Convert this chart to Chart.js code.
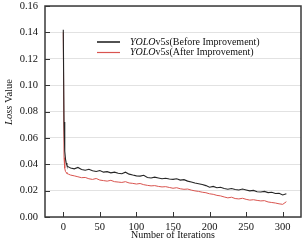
<!DOCTYPE html>
<html>
<head>
<meta charset="utf-8">
<script src="https://cdn.jsdelivr.net/npm/chart.js@4/dist/chart.umd.min.js"></script>
<style>
  body { margin: 0; background: #fff; }
  canvas { display: block; }
</style>
</head>
<body>
<canvas id="chart" width="306" height="241"></canvas>
<script>
const iterations = [0, 1, 2, 3, 4, 5, 7, 10, 15, 20, 25, 30, 35, 40, 45, 50, 55, 60, 65, 70, 75, 80, 85, 90, 95,
  100, 105, 110, 115, 120, 125, 130, 135, 140, 145, 150, 155, 160, 165, 170, 175, 180, 185, 190, 195,
  200, 205, 210, 215, 220, 225, 230, 235, 240, 245, 250, 255, 260, 265, 270, 275, 280, 285, 290, 295, 300, 305];
const lossBefore = [0.142, 0.072, 0.050, 0.044, 0.041, 0.039, 0.038, 0.0372, 0.0365, 0.0376, 0.0360, 0.0355, 0.0362, 0.0350, 0.0345, 0.0352, 0.0340, 0.0344, 0.0335, 0.0340, 0.0332, 0.0328, 0.0340, 0.0325, 0.0318,
  0.0312, 0.0310, 0.0316, 0.0300, 0.0296, 0.0302, 0.0296, 0.0290, 0.0294, 0.0288, 0.0285, 0.0290, 0.0280, 0.0283, 0.0272, 0.0266, 0.0258, 0.0252, 0.0246, 0.0238,
  0.0226, 0.0232, 0.0222, 0.0226, 0.0216, 0.0210, 0.0216, 0.0208, 0.0205, 0.0212, 0.0205, 0.0198, 0.0202, 0.0192, 0.0190, 0.0194, 0.0185, 0.0188, 0.0178, 0.0180, 0.0167, 0.0176];
const lossAfter = [0.140, 0.045, 0.037, 0.0345, 0.0338, 0.0330, 0.0325, 0.0318, 0.0312, 0.0305, 0.0298, 0.0300, 0.0290, 0.0285, 0.0292, 0.0280, 0.0276, 0.0272, 0.0278, 0.0268, 0.0265, 0.0262, 0.0268, 0.0258, 0.0255,
  0.0250, 0.0254, 0.0245, 0.0240, 0.0236, 0.0238, 0.0232, 0.0228, 0.0230, 0.0224, 0.0218, 0.0222, 0.0214, 0.0210, 0.0212, 0.0204, 0.0198, 0.0194, 0.0188, 0.0184,
  0.0176, 0.0172, 0.0164, 0.0160, 0.0152, 0.0145, 0.0150, 0.0140, 0.0137, 0.0142, 0.0134, 0.0128, 0.0131, 0.0126, 0.0122, 0.0124, 0.0114, 0.0110, 0.0106, 0.0100, 0.0096, 0.0116];
const seriesLabels = ['YOLOv5s(Before Improvement)', 'YOLOv5s(After Improvement)'];
const xTicks = [0, 50, 100, 150, 200, 250, 300];
const yTicks = [0, 0.02, 0.04, 0.06, 0.08, 0.10, 0.12, 0.14, 0.16];

const serif = '"Liberation Serif", "Times New Roman", serif';

// mixed italic / upright text, parts = [[text, italic], ...]
function drawRich(ctx, parts, x, y, size) {
  let cx = x;
  parts.forEach(([text, italic]) => {
    ctx.font = (italic ? 'italic ' : '') + size + 'px ' + serif;
    ctx.fillText(text, cx, y);
    cx += ctx.measureText(text).width;
  });
  return cx - x;
}

function richWidth(ctx, parts, size) {
  let w = 0;
  parts.forEach(([text, italic]) => {
    ctx.font = (italic ? 'italic ' : '') + size + 'px ' + serif;
    w += ctx.measureText(text).width;
  });
  return w;
}

function labelParts(label) {
  const m = label.match(/^(YOLO)(v5)(s)(.*)$/);
  return m ? [[m[1], true], [m[2], false], [m[3], true], [m[4], false]] : [[label, false]];
}

const decor = {
  id: 'decor',
  afterDraw(chart) {
    const ctx = chart.ctx;
    const a = chart.chartArea;
    const xs = chart.scales.x, ys = chart.scales.y;
    ctx.save();
    ctx.strokeStyle = '#333';
    ctx.lineWidth = 1;
    // inward tick marks
    ctx.beginPath();
    xs.ticks.forEach(t => {
      const px = Math.round(xs.getPixelForValue(t.value)) + 0.5;
      ctx.moveTo(px, a.bottom);
      ctx.lineTo(px, a.bottom - 5);
    });
    ys.ticks.forEach(t => {
      const py = Math.round(ys.getPixelForValue(t.value)) + 0.5;
      ctx.moveTo(a.left, py);
      ctx.lineTo(a.left + 5, py);
    });
    ctx.stroke();
    // frame
    ctx.strokeStyle = '#3a3a3a';
    ctx.lineWidth = 1.5;
    ctx.strokeRect(a.left, a.top, a.right - a.left, a.bottom - a.top);

    // y axis title
    ctx.fillStyle = '#111';
    ctx.textBaseline = 'middle';
    const yParts = [['Loss', true], [' Value', false]];
    const w = richWidth(ctx, yParts, 10.5);
    ctx.translate(9, 102);
    ctx.rotate(-Math.PI / 2);
    drawRich(ctx, yParts, -w / 2, 0, 10.5);
    ctx.setTransform(1, 0, 0, 1, 0, 0);

    // legend
    chart.data.datasets.forEach((ds, i) => {
      const ly = 42 + i * 10.5;
      ctx.strokeStyle = ds.borderColor;
      ctx.lineWidth = i === 0 ? 1.6 : 1.2;
      ctx.beginPath();
      ctx.moveTo(97, ly);
      ctx.lineTo(120, ly);
      ctx.stroke();
      ctx.fillStyle = '#111';
      drawRich(ctx, labelParts(ds.label), 130, ly, 10);
    });
    ctx.restore();
  }
};

const ctx = document.getElementById('chart').getContext('2d');

new Chart(ctx, {
  type: 'line',
  data: {
    datasets: [
      {
        label: seriesLabels[0],
        data: iterations.map((it, i) => ({ x: it, y: lossBefore[i] })),
        borderColor: '#262626',
        borderWidth: 1.1,
        pointRadius: 0,
        tension: 0
      },
      {
        label: seriesLabels[1],
        data: iterations.map((it, i) => ({ x: it, y: lossAfter[i] })),
        borderColor: '#d9544f',
        borderWidth: 1,
        pointRadius: 0,
        tension: 0
      }
    ]
  },
  options: {
    responsive: false,
    animation: false,
    layout: { padding: { top: 6, right: 5, left: 0, bottom: 0 } },
    plugins: { legend: { display: false }, tooltip: { enabled: false } },
    scales: {
      x: {
        type: 'linear',
        min: -25,
        max: 325,
        afterBuildTicks: s => { s.ticks = xTicks.map(v => ({ value: v })); },
        afterFit: s => { s.height = 24; s.paddingLeft = 0; s.paddingRight = 0; },
        grid: { display: false, drawTicks: false },
        border: { display: false },
        ticks: { color: '#111', padding: 4, maxRotation: 0, font: { family: serif, size: 10.5 } },
        title: {
          display: true,
          text: 'Number of Iterations',
          color: '#111',
          padding: { top: 0, bottom: 0 },
          font: { family: serif, size: 10 }
        }
      },
      y: {
        min: 0,
        max: 0.16,
        afterBuildTicks: s => { s.ticks = yTicks.map(v => ({ value: v })); },
        afterFit: s => { s.width = 45; s.paddingTop = 0; s.paddingBottom = 0; },
        grid: { color: '#e2e2e2', lineWidth: 1, drawTicks: false },
        border: { display: false },
        ticks: {
          color: '#111',
          padding: 7,
          font: { family: serif, size: 10.5 },
          callback: v => v.toFixed(2)
        }
      }
    }
  },
  plugins: [decor]
});
</script>
</body>
</html>
